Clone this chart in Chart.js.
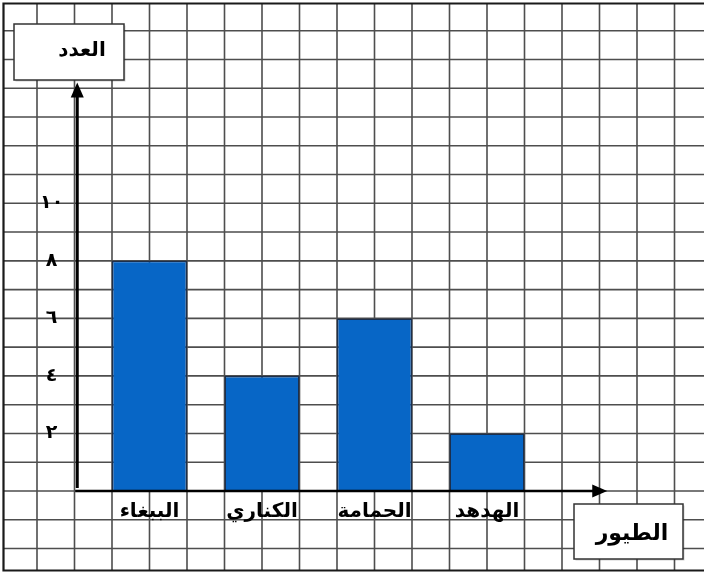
<!DOCTYPE html>
<html lang="ar">
<head>
<meta charset="utf-8">
<title>الطيور</title>
<script src="https://cdn.jsdelivr.net/npm/chart.js@4.4.1/dist/chart.umd.min.js"></script>
<style>
  html, body { margin: 0; padding: 0; background: #fff; }
  #chart { display: block; }
</style>
</head>
<body>
<canvas id="chart" width="704" height="573"></canvas>
<script>
// bar chart on squared paper: number of birds per kind
const birds = ['الببغاء', 'الكناري', 'الحمامة', 'الهدهد'];
const counts = [8, 4, 6, 2];
const tickValues = [0, 2, 4, 6, 8, 10];
const tickLabels = ['', '٢', '٤', '٦', '٨', '١٠'];
const yTitle = 'العدد';
const xTitle = 'الطيور';

const FONT = '"DejaVu Sans", "Noto Sans", sans-serif';
const BAR = '#0766c6';
const INK = '#000';

// squared paper behind everything, spaced from the scales
const paper = {
  id: 'paper',
  beforeDraw(chart) {
    const { ctx, width, height, scales: { x, y } } = chart;
    const cw = x.width / birds.length / 3;
    const x0 = x.getPixelForValue(0) - cw;
    ctx.save();
    ctx.fillStyle = '#fff';
    ctx.fillRect(0, 0, width, height);
    ctx.strokeStyle = '#4e4e4e';
    ctx.lineWidth = 1.6;
    ctx.beginPath();
    for (let k = -3; k < 20; k++) {
      const px = x0 + k * cw;
      if (px < 10 || px > width) continue;
      ctx.moveTo(px, 3.5); ctx.lineTo(px, 570.5);
    }
    for (let v = -2; v <= 16; v++) {
      const py = y.getPixelForValue(v);
      ctx.moveTo(3.5, py); ctx.lineTo(width, py);
    }
    ctx.stroke();
    // outer frame
    ctx.strokeStyle = '#1a1a1a';
    ctx.lineWidth = 2.2;
    ctx.beginPath();
    ctx.moveTo(width, 3.5); ctx.lineTo(3.5, 3.5); ctx.lineTo(3.5, 570.5); ctx.lineTo(width, 570.5);
    ctx.stroke();
    ctx.restore();
  }
};

function labelBox(ctx, x, y, w, h, text, tx, ty, size) {
  ctx.save();
  ctx.fillStyle = 'rgba(0,0,0,0.18)';
  ctx.fillRect(x + 1.5, y + 1.5, w, h);
  ctx.fillStyle = '#fff';
  ctx.fillRect(x, y, w, h);
  ctx.strokeStyle = '#333';
  ctx.lineWidth = 1.5;
  ctx.strokeRect(x, y, w, h);
  ctx.fillStyle = INK;
  ctx.font = 'bold ' + size + 'px ' + FONT;
  ctx.textAlign = 'center';
  ctx.textBaseline = 'middle';
  ctx.fillText(text, tx, ty);
  ctx.restore();
}

// arrowed axes and the two axis-name boxes
const axesArrows = {
  id: 'axesArrows',
  afterDraw(chart) {
    const { ctx, chartArea: a, scales: { y } } = chart;
    const ax = a.left - 16;
    const base = y.getPixelForValue(0);
    const tipY = y.getPixelForValue(14.2);
    const tipX = a.right + 64;
    ctx.save();
    ctx.strokeStyle = '#000';
    ctx.fillStyle = '#000';
    ctx.lineWidth = 3;
    ctx.beginPath();
    ctx.moveTo(ax, base - 3); ctx.lineTo(ax, tipY + 10);
    ctx.stroke();
    ctx.beginPath();
    ctx.moveTo(ax, tipY); ctx.lineTo(ax - 6.5, tipY + 15); ctx.lineTo(ax + 6.5, tipY + 15);
    ctx.closePath(); ctx.fill();
    ctx.lineWidth = 2.5;
    ctx.beginPath();
    ctx.moveTo(ax - 2, base); ctx.lineTo(tipX - 10, base);
    ctx.stroke();
    ctx.beginPath();
    ctx.moveTo(tipX, base); ctx.lineTo(tipX - 15, base - 6.5); ctx.lineTo(tipX - 15, base + 6.5);
    ctx.closePath(); ctx.fill();
    ctx.restore();

    labelBox(ctx, 14, 24, 110, 56, yTitle, 82, 51, 20);
    labelBox(ctx, 574, 504, 109, 55, xTitle, 632, 534, 22);
  }
};

new Chart(document.getElementById('chart'), {
  type: 'bar',
  data: {
    labels: birds,
    datasets: [{
      data: counts,
      backgroundColor: BAR,
      borderColor: '#1b2f4d',
      borderWidth: 1.5,
      categoryPercentage: 1,
      barPercentage: 2 / 3
    }]
  },
  options: {
    responsive: false,
    devicePixelRatio: 1,
    animation: false,
    layout: { padding: { top: 203.3, right: 160.75, bottom: 0, left: 0 } },
    plugins: { legend: { display: false }, tooltip: { enabled: false } },
    scales: {
      x: {
        grid: { display: false, drawTicks: false },
        border: { display: false },
        ticks: {
          color: INK, font: { family: FONT, size: 20, weight: 'bold' },
          padding: 9, maxRotation: 0, autoSkip: false
        },
        afterFit: (s) => { s.height = 82; }
      },
      y: {
        min: 0, max: 10,
        grid: { display: false, drawTicks: false },
        border: { display: false },
        afterBuildTicks: (s) => { s.ticks = tickValues.map(v => ({ value: v })); },
        ticks: {
          color: INK, font: { family: FONT, size: 19, weight: 'bold' },
          crossAlign: 'center', padding: 30,
          callback: (v) => tickLabels[tickValues.indexOf(v)]
        },
        afterFit: (s) => { s.width = 93.25; }
      }
    }
  },
  plugins: [paper, axesArrows]
});
</script>
</body>
</html>
